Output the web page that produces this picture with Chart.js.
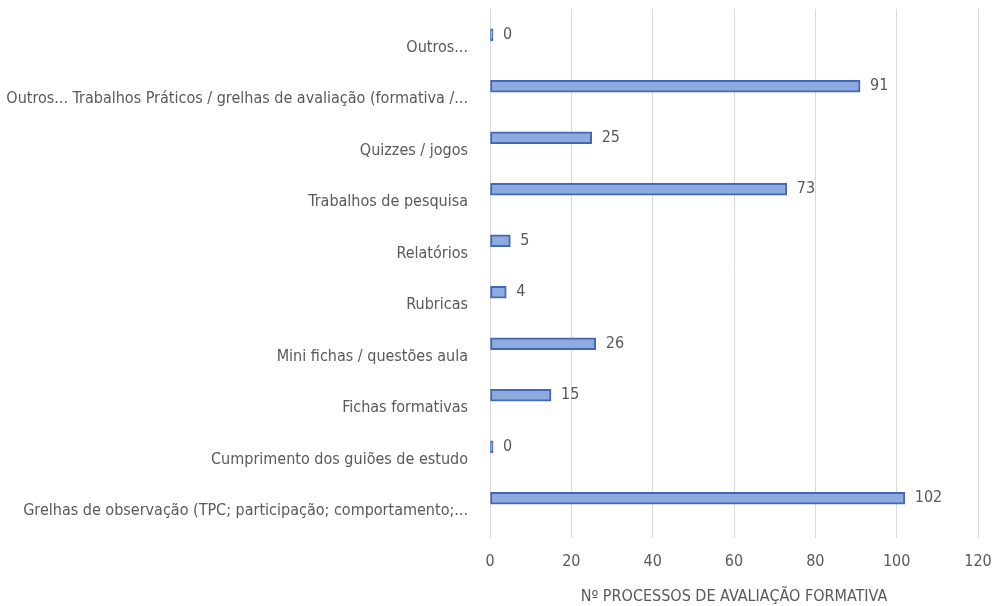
<!DOCTYPE html>
<html>
<head>
<meta charset="utf-8">
<script src="https://cdn.jsdelivr.net/npm/chart.js@4"></script>
<style>
  body { margin: 0; background: #fff; }
  #wrap { width: 992px; height: 606px; }
</style>
</head>
<body>
<div id="wrap"><canvas id="myChart"></canvas></div>
<script>
const categorias = [
    'Outros...',
    'Outros... Trabalhos Práticos / grelhas de avaliação (formativa /...',
    'Quizzes / jogos',
    'Trabalhos de pesquisa',
    'Relatórios',
    'Rubricas',
    'Mini fichas / questões aula',
    'Fichas formativas',
    'Cumprimento dos guiões de estudo',
    'Grelhas de observação (TPC; participação; comportamento;...'
];
const processos = [0, 91, 25, 73, 5, 4, 26, 15, 0, 102];
const tituloX = 'Nº PROCESSOS DE AVALIAÇÃO FORMATIVA';

const fonte = "'Liberation Sans Narrow', 'DejaVu Sans Condensed', 'Liberation Sans', sans-serif";
const cinza = '#595959';

// rótulos de valor ao lado das barras
const rotulos = {
    id: 'rotulos',
    afterDatasetsDraw(chart) {
        const ctx = chart.ctx;
        const meta = chart.getDatasetMeta(0);
        ctx.save();
        ctx.font = '16px ' + fonte;
        ctx.fillStyle = cinza;
        ctx.textBaseline = 'middle';
        ctx.textAlign = 'left';
        meta.data.forEach((bar, i) => {
            ctx.fillText(processos[i], bar.x + 10, bar.y);
        });
        ctx.restore();
    }
};

const ctx = document.getElementById('myChart');
var grafico = new Chart(ctx, {
    type: 'bar',
    data: {
        labels: categorias,
        datasets: [{
            data: processos,
            backgroundColor: '#8eaadf',
            borderColor: '#4368b8',
            borderWidth: 2,
            borderSkipped: false,
            barThickness: 12,
            minBarLength: 3
        }]
    },
    options: {
        indexAxis: 'y',
        responsive: true,
        maintainAspectRatio: false,
        animation: false,
        layout: { padding: { top: 9, right: 14, left: 0, bottom: 0 } },
        plugins: {
            legend: { display: false },
            tooltip: { enabled: false }
        },
        scales: {
            x: {
                min: 0,
                max: 120,
                ticks: {
                    stepSize: 20,
                    color: cinza,
                    font: { size: 16, family: fonte },
                    padding: 14
                },
                grid: { color: '#d9d9d9', drawTicks: true, tickLength: 14 },
                border: { display: false },
                title: {
                    display: true,
                    text: tituloX,
                    color: cinza,
                    font: { size: 16, family: fonte },
                    padding: { top: 4, bottom: 0 }
                },
                afterFit(scale) {
                    scale.height = 82;
                    scale.paddingRight = 0;
                    scale.paddingLeft = 0;
                }
            },
            y: {
                ticks: {
                    color: cinza,
                    font: { size: 16, family: fonte },
                    padding: 14,
                    labelOffset: 13,
                    autoSkip: false
                },
                grid: { display: false },
                border: { display: false },
                afterFit(scale) {
                    scale.width = 490;
                    scale.paddingTop = 0;
                    scale.paddingBottom = 0;
                }
            }
        }
    },
    plugins: [rotulos]
});
</script>
</body>
</html>
